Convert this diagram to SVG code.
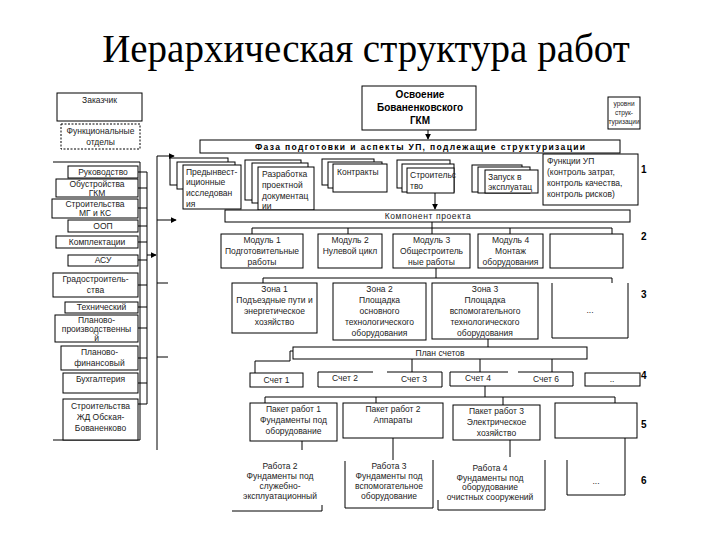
<svg xmlns="http://www.w3.org/2000/svg" width="720" height="540" viewBox="0 0 720 540">
<defs>
<style>
.bx{fill:#fff;stroke:#000;stroke-width:1}
.op{fill:#fff;stroke:#000;stroke-width:1}
.ln{fill:none;stroke:#000;stroke-width:1}
.ds{fill:#fff;stroke:#000;stroke-width:1;stroke-dasharray:2,1.5}
text{font-family:"Liberation Sans",Arial,sans-serif;font-size:8.5px;fill:#222}
.c{text-anchor:middle}
.bd{font-weight:bold;fill:#000}
.lv{font-size:10px;font-weight:bold;fill:#000}
.ttl{font-family:"Liberation Serif","Times New Roman",serif;font-size:39px;fill:#000}
</style>
<marker id="ah" viewBox="0 0 8 8" refX="7" refY="4" markerWidth="6" markerHeight="6" orient="auto"><path d="M0,0 L8,4 L0,8 z" fill="#000"/></marker>
</defs>
<rect width="720" height="540" fill="#fff"/>
<text class="ttl" x="366" y="62" text-anchor="middle">Иерархическая структура работ</text>

<g id="connectors">
<path class="ln" d="M53,162 H140 V440 H53"/>
<path class="ln" d="M147,172 V404 M138,172 H147 M138,188 H147 M138,208 H147 M138,226 H147 M138,242 H147 M138,260 H147 M138,285 H147 M138,307 H147 M138,328 H147 M138,358 H147 M138,383 H147 M138,404 H147"/>
<path class="ln" d="M147,255 H156" marker-end="url(#ah)"/>
<path class="ln" d="M157,156 V450"/>
<path class="ln" d="M157,156 H174" marker-end="url(#ah)"/>
<path class="ln" d="M157,220 H176" marker-end="url(#ah)"/>
<path class="ln" d="M157,283 H168 M157,357 H168"/>
<path class="ln" d="M428,130 V139" marker-end="url(#ah)"/>
<path class="ln" d="M435,193 V209" marker-end="url(#ah)"/>
<path class="ln" d="M252,228 H612 M252,228 V234 M348,228 V234 M432,222 V234 M510,228 V234 M612,228 V234"/>
<path class="ln" d="M436,268 V278 M263,278 H612 M263,278 V283 M612,278 V283"/>
<path class="ln" d="M488,339 V347 M293,351 H290 V361 H255 V373 M412,359 V372 M480,359 V372 M552,359 V372"/>
<path class="ln" d="M485,386 V397 M265,397 H615 M265,397 V403 M376,397 V403 M503,397 V405 M615,397 V403"/>
<path class="ln" d="M302,441 V450 M393,438 V460 M510,440 V457 M625,438 V450"/>
</g>

<g id="zakazchik"><rect class="bx" x="57" y="93" width="85" height="28"/><text class="c" x="99.5" y="103">Заказчик</text></g>
<g id="funk-otdely"><rect class="ds" x="61" y="124" width="79" height="25"/><text class="c" x="100.5" y="134">Функциональные</text><text class="c" x="100.5" y="145">отделы</text></g>
<g id="rukovodstvo"><rect class="bx" x="68" y="166" width="70" height="12"/><text class="c" x="103" y="175">Руководство</text></g>
<g id="obustroistvo"><rect class="bx" x="56" y="179" width="82" height="18"/><text class="c" x="97" y="187">Обустройства</text><text class="c" x="97" y="196">ГКМ</text></g>
<g id="stroit-mg"><rect class="bx" x="52" y="199" width="86" height="19"/><text class="c" x="95" y="207">Строительства</text><text class="c" x="95" y="216">МГ и КС</text></g>
<g id="oop"><rect class="bx" x="68" y="220" width="70" height="12"/><text class="c" x="103" y="229">ООП</text></g>
<g id="komplekt"><rect class="bx" x="56" y="236" width="82" height="12"/><text class="c" x="97" y="245">Комплектации</text></g>
<g id="asu"><rect class="bx" x="68" y="255" width="70" height="11"/><text class="c" x="103" y="263">АСУ</text></g>
<g id="gradostr"><rect class="bx" x="53" y="273" width="85" height="24"/><text class="c" x="95.5" y="282">Градостроитель-</text><text class="c" x="95.5" y="293">ства</text></g>
<g id="tekhn"><rect class="bx" x="65" y="302" width="73" height="11"/><text class="c" x="101.5" y="310">Технический</text></g>
<g id="plan-proizv"><rect class="bx" x="55" y="315" width="83" height="27"/><text class="c" x="96.5" y="323">Планово-</text><text class="c" x="96.5" y="332">производственны</text><text class="c" x="96.5" y="341">й</text></g>
<g id="plan-fin"><rect class="bx" x="61" y="346" width="77" height="24"/><text class="c" x="99.5" y="355">Планово-</text><text class="c" x="99.5" y="366">финансовый</text></g>
<g id="bukh"><rect class="bx" x="63" y="373" width="75" height="20"/><text class="c" x="100.5" y="382">Бухгалтерия</text></g>
<g id="stroit-zhd"><rect class="bx" x="63" y="399" width="75" height="41"/><text class="c" x="100.5" y="409">Строительства</text><text class="c" x="100.5" y="420">ЖД Обская-</text><text class="c" x="100.5" y="431">Бованенково</text></g>

<g id="osvoenie"><rect class="bx" x="362" y="86" width="114" height="44"/><text class="c bd" x="420" y="98" style="font-size:10px">Освоение</text><text class="c bd" x="420" y="111" style="font-size:10px">Бованенковского</text><text class="c bd" x="420" y="124" style="font-size:10px">ГКМ</text></g>
<g id="urovni"><rect class="bx" x="608" y="97" width="32" height="32"/><text class="c" x="624" y="106" style="font-size:6.5px">уровни</text><text class="c" x="624" y="115" style="font-size:6.5px">струк-</text><text class="c" x="624" y="124" style="font-size:6.5px">туризации</text></g>
<g id="faza"><rect class="bx" x="200" y="140" width="420" height="13"/><text class="c bd" x="420" y="150" textLength="330" lengthAdjust="spacing">Фаза подготовки и аспекты УП, подлежащие структуризации</text></g>

<g id="predinvest"><rect class="bx" x="170" y="158" width="58" height="27"/><rect class="bx" x="177" y="162" width="58" height="27"/><rect class="bx" x="183" y="165" width="58" height="44"/><text x="186" y="175">Предынвест-</text><text x="186" y="185">иционные</text><text x="186" y="196">исследован</text><text x="186" y="207">ия</text></g>
<g id="razrabotka"><rect class="bx" x="245" y="160" width="56" height="40"/><rect class="bx" x="252" y="163" width="56" height="40"/><rect class="bx" x="258" y="167" width="56" height="43"/><text x="262" y="177">Разработка</text><text x="262" y="188">проектной</text><text x="262" y="199">документац</text><text x="262" y="209">ии</text></g>
<g id="kontrakty"><rect class="bx" x="322" y="159" width="52" height="26"/><rect class="bx" x="328" y="162" width="54" height="26"/><rect class="bx" x="333" y="164" width="54" height="28"/><text x="337" y="175">Контракты</text></g>
<g id="stroitelstvo"><rect class="bx" x="397" y="160" width="53" height="28"/><rect class="bx" x="402" y="164" width="52" height="28"/><rect class="bx" x="407" y="168" width="47" height="25"/><text x="410" y="178">Строительс</text><text x="410" y="189">тво</text></g>
<g id="zapusk"><rect class="bx" x="472" y="165" width="50" height="27"/><rect class="bx" x="478" y="167" width="52" height="26"/><rect class="bx" x="485" y="170" width="53" height="23"/><text x="488" y="180">Запуск в</text><text x="488" y="190">эксплуатац</text></g>
<g id="funkcii"><rect class="bx" x="543" y="154" width="95" height="51"/><text x="547" y="164">Функции УП</text><text x="547" y="175">(контроль затрат,</text><text x="547" y="186">контроль качества,</text><text x="547" y="197">контроль рисков)</text></g>
<text class="lv" x="641" y="173">1</text>

<g id="komponent"><rect class="bx" x="225" y="210" width="405" height="12"/><text class="c" x="428" y="219" style="letter-spacing:0.6px">Компонент проекта</text></g>

<g id="modul1"><rect class="bx" x="221" y="234" width="82" height="34"/><text class="c" x="262" y="243">Модуль 1</text><text class="c" x="262" y="254">Подготовительные</text><text class="c" x="262" y="265">работы</text></g>
<g id="modul2"><rect class="bx" x="318" y="234" width="64" height="34"/><text class="c" x="350" y="243">Модуль 2</text><text class="c" x="350" y="254">Нулевой цикл</text></g>
<g id="modul3"><rect class="bx" x="393" y="234" width="77" height="34"/><text class="c" x="431.5" y="243">Модуль 3</text><text class="c" x="431.5" y="254">Общестроитель</text><text class="c" x="431.5" y="265">ные работы</text></g>
<g id="modul4"><rect class="bx" x="478" y="234" width="65" height="34"/><text class="c" x="510.5" y="243">Модуль 4</text><text class="c" x="510.5" y="254">Монтаж</text><text class="c" x="510.5" y="265">оборудования</text></g>
<g id="modul-empty"><rect class="bx" x="550" y="234" width="73" height="34"/></g>
<text class="lv" x="641" y="240">2</text>

<g id="zona1"><rect class="bx" x="232" y="283" width="85" height="50"/><text class="c" x="274.5" y="292">Зона 1</text><text class="c" x="274.5" y="303">Подъездные пути и</text><text class="c" x="274.5" y="314">энергетическое</text><text class="c" x="274.5" y="325">хозяйство</text></g>
<g id="zona2"><rect class="bx" x="333" y="283" width="93" height="57"/><text class="c" x="379.5" y="292">Зона 2</text><text class="c" x="379.5" y="303">Площадка</text><text class="c" x="379.5" y="314">основного</text><text class="c" x="379.5" y="325">технологического</text><text class="c" x="379.5" y="336">оборудования</text></g>
<g id="zona3"><rect class="bx" x="432" y="283" width="106" height="56"/><text class="c" x="485" y="292">Зона 3</text><text class="c" x="485" y="303">Площадка</text><text class="c" x="485" y="314">вспомогательного</text><text class="c" x="485" y="325">технологического</text><text class="c" x="485" y="336">оборудования</text></g>
<g id="zona-more"><path class="ln" d="M552,283 V338 H628 V283"/><text class="c" x="590" y="313">...</text></g>
<text class="lv" x="641" y="298">3</text>

<g id="plan-schetov"><rect class="bx" x="293" y="347" width="294" height="12"/><text class="c" x="440" y="356">План счетов</text></g>
<g id="schet1"><rect class="bx" x="250" y="373" width="53" height="14"/><text class="c" x="276.5" y="383">Счет 1</text></g>
<g id="schet2-3"><path class="ln" d="M373,372 H318 V387 H442 V372 H387"/><text class="c" x="345" y="381">Счет 2</text><text class="c" x="414" y="382">Счет 3</text></g>
<g id="schet4-6"><path class="ln" d="M508,372 H450 V386 H573 V372 H518"/><text class="c" x="478" y="381">Счет 4</text><text class="c" x="546" y="382">Счет 6</text></g>
<g id="schet-more"><rect class="bx" x="585" y="373" width="55" height="13"/><text class="c" x="612" y="382">..</text></g>
<text class="lv" x="641" y="379">4</text>

<g id="paket1"><rect class="bx" x="250" y="403" width="87" height="38"/><text class="c" x="293.5" y="412">Пакет работ 1</text><text class="c" x="293.5" y="423">Фундаменты под</text><text class="c" x="293.5" y="434">оборудование</text></g>
<g id="paket2"><rect class="bx" x="343" y="403" width="100" height="35"/><text class="c" x="393" y="412">Пакет работ 2</text><text class="c" x="393" y="423">Аппараты</text></g>
<g id="paket3"><rect class="bx" x="453" y="405" width="87" height="35"/><text class="c" x="496.5" y="414">Пакет работ 3</text><text class="c" x="496.5" y="425">Электрическое</text><text class="c" x="496.5" y="436">хозяйство</text></g>
<g id="paket-empty"><rect class="bx" x="555" y="403" width="82" height="35"/></g>
<text class="lv" x="641" y="428">5</text>

<g id="rabota2"><path class="ln" d="M232,511 H322 V505"/><text class="c" x="280" y="469">Работа 2</text><text class="c" x="280" y="479">Фундаменты под</text><text class="c" x="280" y="489">служебно-</text><text class="c" x="280" y="499">эксплуатационный</text></g>
<g id="rabota3"><path class="ln" d="M345,461 V508 H433 V460"/><text class="c" x="389" y="469">Работа 3</text><text class="c" x="389" y="479">Фундаменты под</text><text class="c" x="389" y="489">вспомогательное</text><text class="c" x="389" y="499">оборудование</text></g>
<g id="rabota4"><path class="ln" d="M438,500 V510 H545 V460"/><text class="c" x="490" y="471">Работа 4</text><text class="c" x="490" y="481">Фундаменты под</text><text class="c" x="490" y="490">оборудование</text><text class="c" x="490" y="500">очистных сооружений</text></g>
<g id="rabota-more"><path class="ln" d="M567,460 V495 H625 V450"/><text class="c" x="596" y="484">...</text></g>
<text class="lv" x="641" y="484">6</text>
</svg>
